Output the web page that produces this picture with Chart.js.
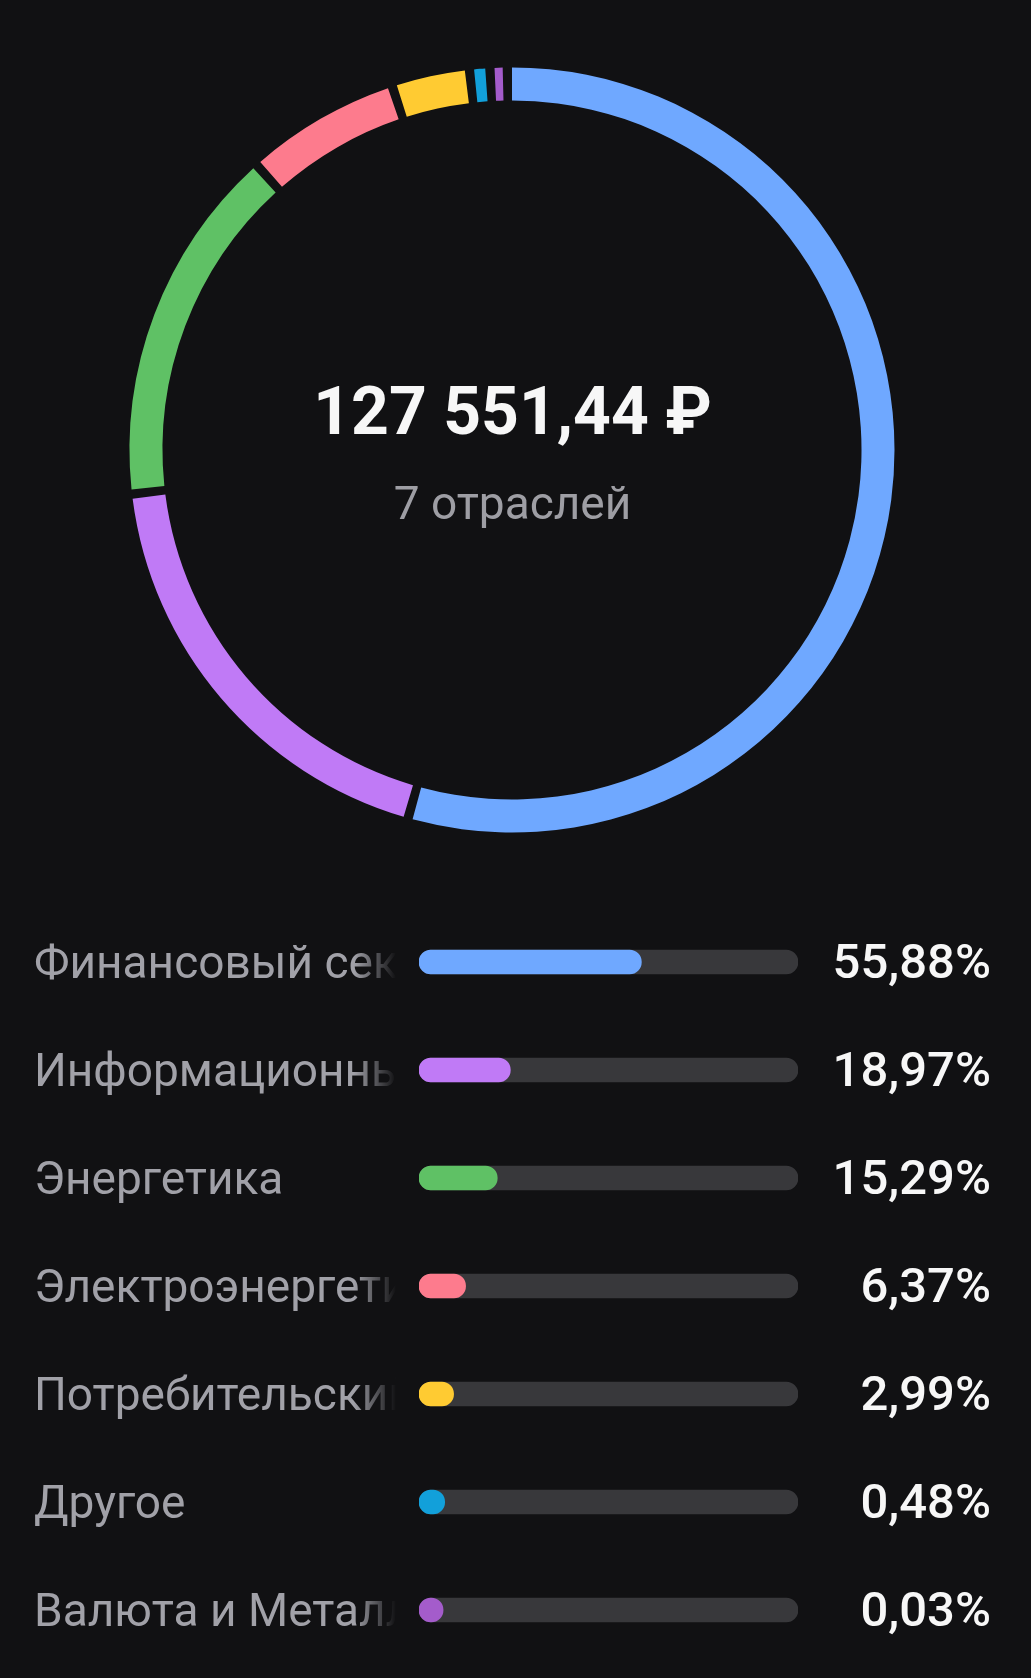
<!DOCTYPE html>
<html lang="ru">
<head>
<meta charset="utf-8">
<title>Отрасли</title>
<script src="https://cdn.jsdelivr.net/npm/chart.js@4.4.1/dist/chart.umd.min.js"></script>
<style>
    html, body {
        margin: 0;
        padding: 0;
        background: #111113;
        width: 1031px;
        height: 1678px;
        overflow: hidden;
        font-family: Roboto, "Noto Sans", sans-serif;
    }
    #ringBox {
        position: absolute;
        left: 112px;
        top: 50px;
        width: 800px;
        height: 800px;
    }
    .center-total {
        position: absolute;
        left: 0;
        width: 1025px;
        top: 372px;
        text-align: center;
        color: #f7f7f7;
        font-size: 66px;
        font-weight: 700;
        line-height: 80px;
    }
    .center-sub {
        position: absolute;
        left: 0;
        width: 1025px;
        top: 475px;
        text-align: center;
        color: #9e9ea4;
        font-size: 46px;
        font-weight: 400;
        line-height: 56px;
    }
    #barBox {
        position: absolute;
        left: 419px;
        top: 908px;
        width: 379px;
        height: 756px;
    }
    #rows {
        position: absolute;
        left: 0;
        top: 908px;
        width: 1031px;
    }
    .row {
        position: relative;
        height: 108px;
    }
    .row .name {
        position: absolute;
        left: 34px;
        top: 0;
        width: 362px;
        height: 108px;
        line-height: 108px;
        white-space: nowrap;
        overflow: hidden;
        color: #a1a1a8;
        font-size: 46px;
        -webkit-mask-image: linear-gradient(to right, #000 calc(100% - 42px), transparent);
        mask-image: linear-gradient(to right, #000 calc(100% - 42px), transparent);
    }
    .row .pct {
        position: absolute;
        right: 40px;
        top: 0;
        height: 108px;
        line-height: 108px;
        color: #f7f7f7;
        font-size: 49px;
        font-weight: 500;
    }
</style>
</head>
<body>
<div id="ringBox"><canvas id="ring" width="800" height="800"></canvas></div>
<div class="center-total" id="total"></div>
<div class="center-sub" id="subtitle"></div>
<div id="barBox"><canvas id="bars" width="379" height="756"></canvas></div>
<div id="rows"></div>

<script>
// Данные
const sectors = ['Финансовый сектор', 'Информационные технологии', 'Энергетика', 'Электроэнергетика', 'Потребительский сектор', 'Другое', 'Валюта и Металлы'];
const shares = [55.88, 18.97, 15.29, 6.37, 2.99, 0.48, 0.03];
const colors = ['#6fa8ff', '#c07af6', '#5fc165', '#fd7b8d', '#ffcb32', '#12a0da', '#a45ccb'];
const totalValue = '127 551,44 ₽';
const subtitle = '7 отраслей';

// Размеры
const minArc = 0.35;    // самый маленький сегмент всё равно виден
const gapArc = 0.4;     // промежуток между сегментами
const ringOuter = 382.5;
const ringWidth = 34.5;
const barH = 24;
const trackW = 379;
const capUnits = barH * 100 / (trackW - barH);

function formatPct(v) {
    return v.toFixed(2).replace('.', ',') + '%';
}

// Кольцо
function initRing() {
    const ringData = [];
    const ringColors = [];
    shares.forEach((v, i) => {
        ringData.push(Math.max(v, minArc), gapArc);
        ringColors.push(colors[i], 'rgba(0,0,0,0)');
    });

    const half = 400; // половина холста
    new Chart(document.getElementById('ring').getContext('2d'), {
        type: 'doughnut',
        data: {
            datasets: [{
                data: ringData,
                backgroundColor: ringColors,
                borderWidth: 0
            }]
        },
        options: {
            responsive: false,
            animation: false,
            events: [],
            radius: ringOuter,
            cutout: half - ringWidth,
            layout: { padding: 0 },
            plugins: {
                legend: { display: false },
                tooltip: { enabled: false }
            }
        }
    });

    document.getElementById('total').textContent = totalValue;
    document.getElementById('subtitle').textContent = subtitle;
}

// Полосы
function initBars() {
    const barStyle = {
        grouped: false,
        barThickness: barH,
        borderRadius: barH / 2,
        borderSkipped: false
    };

    new Chart(document.getElementById('bars').getContext('2d'), {
        type: 'bar',
        data: {
            labels: sectors,
            datasets: [
                Object.assign({
                    data: shares.map(v => [-capUnits, v]),
                    backgroundColor: colors
                }, barStyle),
                Object.assign({
                    data: shares.map(() => [-capUnits, 100]),
                    backgroundColor: '#38383b'
                }, barStyle)
            ]
        },
        options: {
            indexAxis: 'y',
            responsive: false,
            animation: false,
            events: [],
            layout: { padding: 0 },
            scales: {
                x: { display: false, min: -capUnits, max: 100 },
                y: { display: false }
            },
            plugins: {
                legend: { display: false },
                tooltip: { enabled: false }
            }
        }
    });

    const rows = document.getElementById('rows');
    sectors.forEach((name, i) => {
        const row = document.createElement('div');
        row.className = 'row';
        row.innerHTML = `<div class="name">${name}</div><div class="pct">${formatPct(shares[i])}</div>`;
        rows.appendChild(row);
    });
}

document.addEventListener('DOMContentLoaded', () => {
    initRing();
    initBars();
});
</script>
</body>
</html>
